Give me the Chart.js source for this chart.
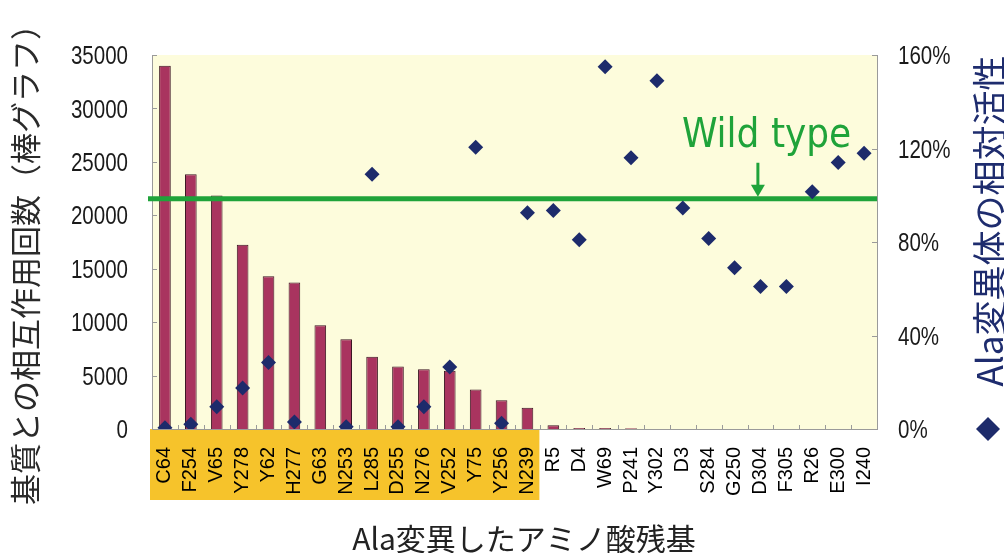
<!DOCTYPE html>
<html>
<head>
<meta charset="utf-8">
<script src="https://cdn.jsdelivr.net/npm/chart.js@4.4.1/dist/chart.umd.min.js"></script>
<style>
  html, body { margin: 0; padding: 0; background: #ffffff; }
  #wrap { width: 1004px; height: 553px; position: relative; }
</style>
</head>
<body>
<div id="wrap"><canvas id="c" width="1004" height="553"></canvas></div>
<script>
// ---- data ----
const categories = ['C64','F254','V65','Y278','Y62','H277','G63','N253','L285','D255','N276','V252','Y75','Y256','N239',
                    'R5','D4','W69','P241','Y302','D3','S284','G250','D304','F305','R26','E300','I240'];
const interactionCounts = [34000,23850,21850,17250,14300,13700,9700,8400,6750,5850,5600,5450,3700,2700,2000,
                           350,100,100,80,0,0,0,0,0,0,0,0,0];
const relativeActivity = [0.5,2,9.5,17.5,28.5,3,null,1,109,1,9.5,26.5,120.5,2.5,92.5,
                          93.5,81,155,116,149,94.5,81.5,69,61,61,101.5,114,118];
const wildTypeLevel = 98.5;
const highlightedCount = 15;          // C64 ... N239
const leftTicks = [0,5000,10000,15000,20000,25000,30000,35000];
const rightTicks = [0,40,80,120,160];
const leftTitle = '基質との相互作用回数（棒グラフ）';
const rightTitle = 'Ala変異体の相対活性';
const xTitle = 'Ala変異したアミノ酸残基';
const wildLabel = 'Wild type';
const wildArrowAt = 22.9;             // position on category axis

const NAVY = '#1d2b6b';
const GREEN = '#1fa33a';
const AXIS = '#9a9a9a';

function narrowText(ctx, text, x, y, align) {
  ctx.save();
  ctx.translate(x, y);
  ctx.scale(0.79, 1);
  ctx.textAlign = align;
  ctx.textBaseline = 'middle';
  ctx.fillText(text, 0, 0);
  ctx.restore();
}

const decor = {
  id: 'decor',
  beforeDraw(chart) {
    const { ctx, chartArea: a, scales: { x } } = chart;
    ctx.save();
    ctx.fillStyle = '#fdfcdc';
    ctx.fillRect(a.left, a.top, a.right - a.left, a.bottom - a.top);
    const x0 = x.getPixelForValue(-0.5) - 2;
    const x1 = x.getPixelForValue(highlightedCount - 0.5) - 1;
    ctx.fillStyle = '#f6c32b';
    ctx.fillRect(x0, a.bottom, x1 - x0, 500 - a.bottom);
    ctx.restore();
  },
  afterDatasetDraw(chart, args) {
    if (args.index !== 0) return;
    const { ctx, chartArea: a, scales: { y1 } } = chart;
    const yy = y1.getPixelForValue(wildTypeLevel);
    ctx.save();
    ctx.strokeStyle = GREEN;
    ctx.lineWidth = 5;
    ctx.beginPath();
    ctx.moveTo(a.left - 4, yy);
    ctx.lineTo(a.right, yy);
    ctx.stroke();
    ctx.restore();
  },
  afterDraw(chart) {
    const { ctx, chartArea: a, scales: { x, y, y1 } } = chart;
    ctx.save();
    // inner tick marks
    ctx.strokeStyle = AXIS;
    ctx.lineWidth = 1;
    ctx.beginPath();
    y.ticks.forEach(t => { const p = Math.round(y.getPixelForValue(t.value)) + 0.5; ctx.moveTo(a.left, p); ctx.lineTo(a.left + 5, p); });
    y1.ticks.forEach(t => { const p = Math.round(y1.getPixelForValue(t.value)) + 0.5; ctx.moveTo(a.right, p); ctx.lineTo(a.right - 5, p); });
    for (let i = 0; i <= categories.length; i++) {
      const p = Math.round(x.getPixelForValue(i - 0.5)) + 0.5;
      ctx.moveTo(p, a.bottom); ctx.lineTo(p, a.bottom - 4);
    }
    ctx.stroke();

    // value axis tick labels (condensed face)
    ctx.fillStyle = '#1a1a1a';
    ctx.font = '26px "Liberation Sans", Arial, sans-serif';
    y.ticks.forEach(t => narrowText(ctx, String(t.value), a.left - 24, y.getPixelForValue(t.value) + 2, 'right'));
    y1.ticks.forEach(t => narrowText(ctx, t.value + '%', a.right + 21, y1.getPixelForValue(t.value) + 2, 'left'));

    // left title
    ctx.save();
    ctx.translate(25, 257);
    ctx.rotate(-Math.PI / 2);
    ctx.textAlign = 'center';
    ctx.textBaseline = 'middle';
    ctx.fillStyle = '#2a2a2a';
    ctx.font = '31px "Noto Sans CJK JP", sans-serif';
    ctx.fillText(leftTitle, 0, 0);
    ctx.restore();

    // right title
    ctx.save();
    ctx.translate(990, 221);
    ctx.rotate(-Math.PI / 2);
    ctx.textAlign = 'center';
    ctx.textBaseline = 'middle';
    ctx.fillStyle = '#1e2c6e';
    ctx.font = '35px "Noto Sans CJK JP", sans-serif';
    ctx.fillText(rightTitle, 0, 0);
    ctx.restore();

    // legend diamond
    ctx.fillStyle = NAVY;
    ctx.beginPath();
    ctx.moveTo(988, 417); ctx.lineTo(1000, 429); ctx.lineTo(988, 441); ctx.lineTo(976, 429);
    ctx.closePath(); ctx.fill();

    // x title
    ctx.textAlign = 'center';
    ctx.textBaseline = 'alphabetic';
    ctx.fillStyle = '#222222';
    ctx.font = '30px "Noto Sans CJK JP", sans-serif';
    ctx.fillText(xTitle, 524, 550);

    // wild type annotation
    const ax = x.getPixelForValue(wildArrowAt);
    const lineY = y1.getPixelForValue(wildTypeLevel);
    ctx.fillStyle = GREEN;
    ctx.font = '40px "DejaVu Sans Condensed", "DejaVu Sans", sans-serif';
    ctx.textAlign = 'left';
    ctx.fillText(wildLabel, ax - 76, 147);
    ctx.strokeStyle = GREEN;
    ctx.lineWidth = 3;
    ctx.beginPath();
    ctx.moveTo(ax, lineY - 36); ctx.lineTo(ax, lineY - 12);
    ctx.stroke();
    ctx.beginPath();
    ctx.moveTo(ax - 7, lineY - 14); ctx.lineTo(ax + 7, lineY - 14); ctx.lineTo(ax, lineY - 2);
    ctx.closePath(); ctx.fill();
    ctx.restore();
  }
};

new Chart(document.getElementById('c'), {
  data: {
    labels: categories,
    datasets: [
      {
        type: 'bar',
        data: interactionCounts,
        yAxisID: 'y',
        backgroundColor: '#a9345f',
        borderColor: '#3b1522',
        borderWidth: 1,
        barPercentage: 0.45,
        categoryPercentage: 1,
        order: 2
      },
      {
        type: 'line',
        data: relativeActivity,
        yAxisID: 'y1',
        showLine: false,
        pointStyle: 'rectRot',
        pointRadius: 7.5,
        pointBackgroundColor: NAVY,
        pointBorderColor: NAVY,
        pointBorderWidth: 0,
        order: 1
      }
    ]
  },
  options: {
    responsive: false,
    animation: false,
    devicePixelRatio: 1,
    layout: { padding: { top: 55, left: 0, right: 0, bottom: 0 } },
    plugins: { legend: { display: false }, tooltip: { enabled: false } },
    scales: {
      x: {
        offset: true,
        grid: { display: false, drawTicks: false },
        border: { display: true, color: AXIS, width: 1 },
        ticks: {
          autoSkip: false, minRotation: 90, maxRotation: 90, padding: 18,
          color: '#000000',
          font: { family: '"Liberation Sans", Arial, sans-serif', size: 20 }
        },
        afterFit(s) { s.height = 124; }
      },
      y: {
        position: 'left',
        min: 0, max: 35000,
        afterBuildTicks(s) { s.ticks = leftTicks.map(v => ({ value: v })); },
        grid: { display: false, drawTicks: false },
        border: { display: true, color: AXIS, width: 1 },
        ticks: { display: false },
        afterFit(s) { s.width = 152; }
      },
      y1: {
        position: 'right',
        min: 0, max: 160,
        afterBuildTicks(s) { s.ticks = rightTicks.map(v => ({ value: v })); },
        grid: { display: false, drawTicks: false },
        border: { display: true, color: AXIS, width: 1 },
        ticks: { display: false },
        afterFit(s) { s.width = 127; }
      }
    }
  },
  plugins: [decor]
});
</script>
</body>
</html>
